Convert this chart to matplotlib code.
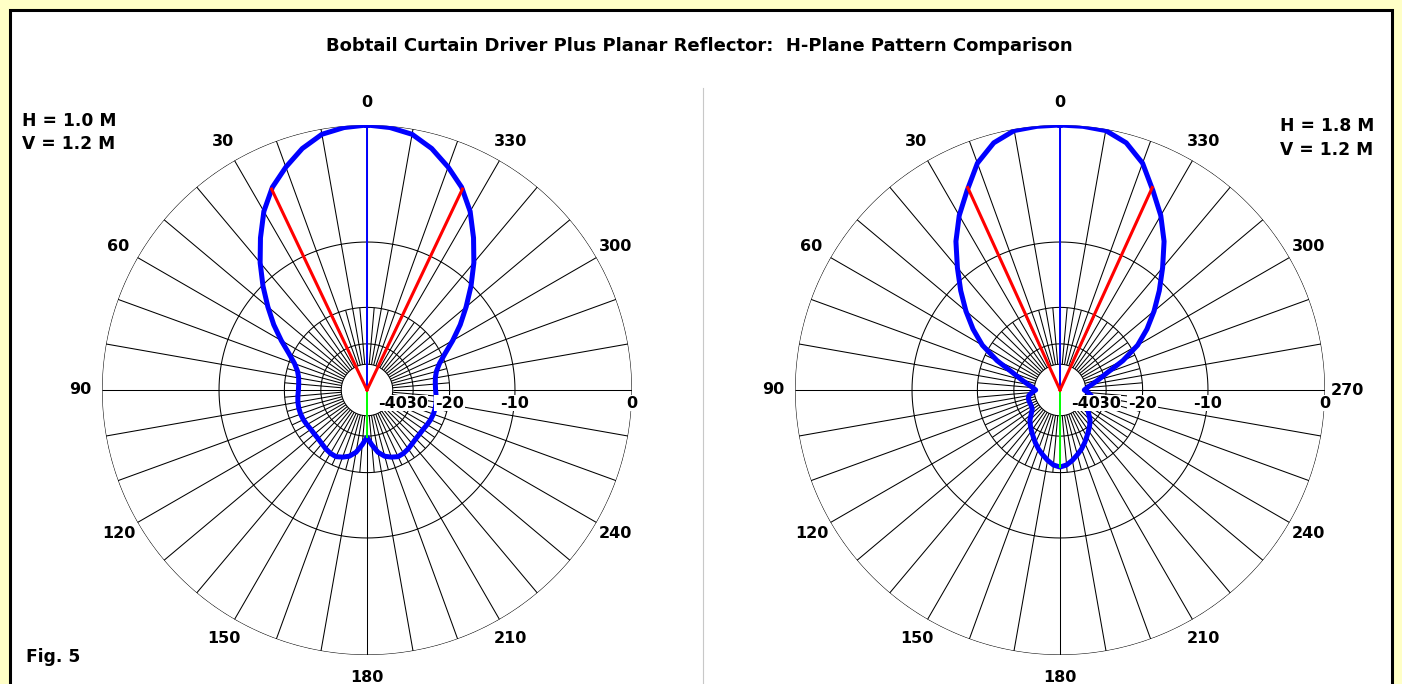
import numpy as np
import matplotlib
matplotlib.use("Agg")
import matplotlib.pyplot as plt
from matplotlib.patches import Rectangle

TITLE = "Bobtail Curtain Driver Plus Planar Reflector:  H-Plane Pattern Comparison"
FIG_LABEL = "Fig. 5"

# azimuth of each gain sample, degrees (0 = forward, counter-clockwise)
azimuth_deg = list(range(0, 360, 5))

# H = 1.0 m, V = 1.2 m : relative gain in dB
gain_h10 = [
    0.0, -0.1, -0.35, -1.0, -1.9, -2.9, -4.3, -6.1, -8.0, -10.1,
    -12.3, -14.5, -16.9, -19.3, -21.2, -22.4, -23.0, -23.2, -23.2, -23.0,
    -22.8, -22.7, -22.7, -22.8, -23.0, -23.2, -23.2, -23.1, -22.8, -22.4,
    -22.1, -22.0, -22.5, -23.2, -24.6, -27.0, -29.6, -27.0, -24.6, -23.2,
    -22.5, -22.0, -22.1, -22.4, -22.8, -23.1, -23.2, -23.2, -23.0, -22.8,
    -22.7, -22.7, -22.8, -23.0, -23.2, -23.2, -23.0, -22.4, -21.2, -19.3,
    -16.9, -14.5, -12.3, -10.1, -8.0, -6.1, -4.3, -2.9, -1.9, -1.0,
    -0.35, -0.1,
]

# H = 1.8 m, V = 1.2 m : relative gain in dB
gain_h18 = [
    0.0, -0.02, -0.1, -0.6, -1.6, -3.2, -4.7, -6.5, -8.7, -10.9,
    -13.2, -15.7, -18.6, -23.0, -28.6, -32.5, -36.0, -39.0, -41.0, -38.5,
    -36.5, -35.9, -35.8, -35.9, -35.8, -35.3, -33.5, -31.4, -30.0, -28.7,
    -27.4, -26.0, -24.7, -23.6, -22.5, -21.6, -21.2, -21.6, -22.5, -23.6,
    -24.7, -26.0, -27.4, -28.7, -30.0, -31.4, -33.5, -35.3, -35.8, -35.9,
    -35.8, -35.9, -36.5, -38.5, -41.0, -39.0, -36.0, -32.5, -28.6, -23.0,
    -18.6, -15.7, -13.2, -10.9, -8.7, -6.5, -4.7, -3.2, -1.6, -0.6,
    -0.1, -0.02,
]

# half-power (-3 dB) bearing either side of the main lobe, and rear gain
halfpower_h10 = 25.4
halfpower_h18 = 24.5
rear_gain_h10 = -29.6
rear_gain_h18 = -21.2

panels = [
    dict(gain=gain_h10, hp=halfpower_h10, rear=rear_gain_h10,
         info=["H = 1.0 M", "V = 1.2 M"], show270=False),
    dict(gain=gain_h18, hp=halfpower_h18, rear=rear_gain_h18,
         info=["H = 1.8 M", "V = 1.2 M"], show270=True),
]

ring_db = [-10, -20, -30, -40]
scale_labels = ["0", "-10", "-20", "-30", "-40"]
scale_label_db = [0, -10, -20, -30, -40]
bearing_labels = list(range(0, 360, 30))

# ARRL log-periodic radial scale: radius shrinks by 0.89 for every 2 dB
K = -np.log(0.89) / 2.0
R_MIN = -300.0


def arrl_fwd(db):
    return np.exp(K * np.asarray(db, dtype=float))


def arrl_inv(x):
    return np.log(np.clip(np.asarray(x, dtype=float), 1e-300, None)) / K


W, H = 1402, 684
plt.rcParams["font.family"] = ["DejaVu Sans"]
plt.rcParams["font.weight"] = "bold"
fig = plt.figure(figsize=(W / 100, H / 100), dpi=100)
fig.patch.set_facecolor("#ffffc6")

bg = fig.add_axes([0, 0, 1, 1])
bg.set_xlim(0, W)
bg.set_ylim(H, 0)
bg.axis("off")
bg.add_patch(Rectangle((9.5, 9.5), 1382, 700, facecolor="white",
                       edgecolor="black", linewidth=2.2, zorder=0))
bg.plot([703, 703], [88, H], color="#c8c8c8", lw=0.8, zorder=1)

TXT = dict(fontsize=12.3, fontweight="bold")
bg.text(699, 46, TITLE, ha="center", va="center", fontsize=13,
        fontweight="bold")
bg.text(22, 121, panels[0]["info"][0], ha="left", va="center", **TXT)
bg.text(22, 144, panels[0]["info"][1], ha="left", va="center", **TXT)
bg.text(1280, 126, panels[1]["info"][0], ha="left", va="center", **TXT)
bg.text(1280, 150, panels[1]["info"][1], ha="left", va="center", **TXT)
bg.text(26, 657, FIG_LABEL, ha="left", va="center", **TXT)

centers = [(367, 390), (1060, 390)]
RADIUS = 265

theta_ring = np.deg2rad(np.linspace(0, 360, 721))

for (cx, cy), p in zip(centers, panels):
    ax = fig.add_axes([(cx - RADIUS) / W, (H - cy - RADIUS) / H,
                       2 * RADIUS / W, 2 * RADIUS / H], projection="polar")
    ax.set_theta_zero_location("N")
    ax.set_theta_direction(1)
    ax.set_rscale("function", functions=(arrl_fwd, arrl_inv))
    ax.set_rlim(R_MIN, 0)
    ax.set_xticks([])
    ax.set_yticks([])
    ax.grid(False)
    ax.spines["polar"].set_visible(False)
    ax.set_facecolor("none")

    gk = dict(color="black", lw=0.75, zorder=2, solid_capstyle="butt")
    # rings
    ax.plot(theta_ring, np.zeros_like(theta_ring), **gk)
    for d in ring_db:
        ax.plot(theta_ring, np.full_like(theta_ring, d), **gk)
    # radials: every 10 deg from the outer ring, every 5 deg inside -20 dB
    for a in range(0, 360, 5):
        t = np.deg2rad(a)
        outer = 0 if a % 10 == 0 else -20
        ax.plot([t, t], [outer, -40], **gk)

    # pattern trace
    th = np.deg2rad(np.append(azimuth_deg, azimuth_deg[0]))
    g = np.append(p["gain"], p["gain"][0])
    ax.plot(th, g, color="#0000ff", lw=3.6, zorder=5,
            solid_joinstyle="round")

    # forward, rear and half-power markers
    ax.plot([0, 0], [R_MIN, 0], color="#0000ff", lw=1.4, zorder=6)
    ax.plot([np.pi, np.pi], [R_MIN, p["rear"]], color="#00ff00", lw=1.4,
            zorder=6)
    for s in (1, -1):
        t = np.deg2rad(s * p["hp"])
        ax.plot([t, t], [R_MIN, -3.0], color="#ff0000", lw=2.2, zorder=6)

    # bearing labels
    for b in bearing_labels:
        if b == 270 and not p["show270"]:
            continue
        ax.text(np.deg2rad(b), arrl_inv(287 / RADIUS), str(b), ha="center",
                va="center", fontsize=11.5, fontweight="bold", clip_on=False)

    # dB scale labels along the 270 deg axis
    for lab, d in zip(scale_labels, scale_label_db):
        ax.annotate(lab, xy=(np.deg2rad(270), d), xytext=(0, -13),
                    textcoords="offset pixels", ha="center", va="center",
                    fontsize=11.5, fontweight="bold", zorder=10,
                    bbox=dict(facecolor="white", edgecolor="none", pad=0.6),
                    annotation_clip=False)

fig.savefig("out.png", dpi=100, facecolor=fig.get_facecolor())
